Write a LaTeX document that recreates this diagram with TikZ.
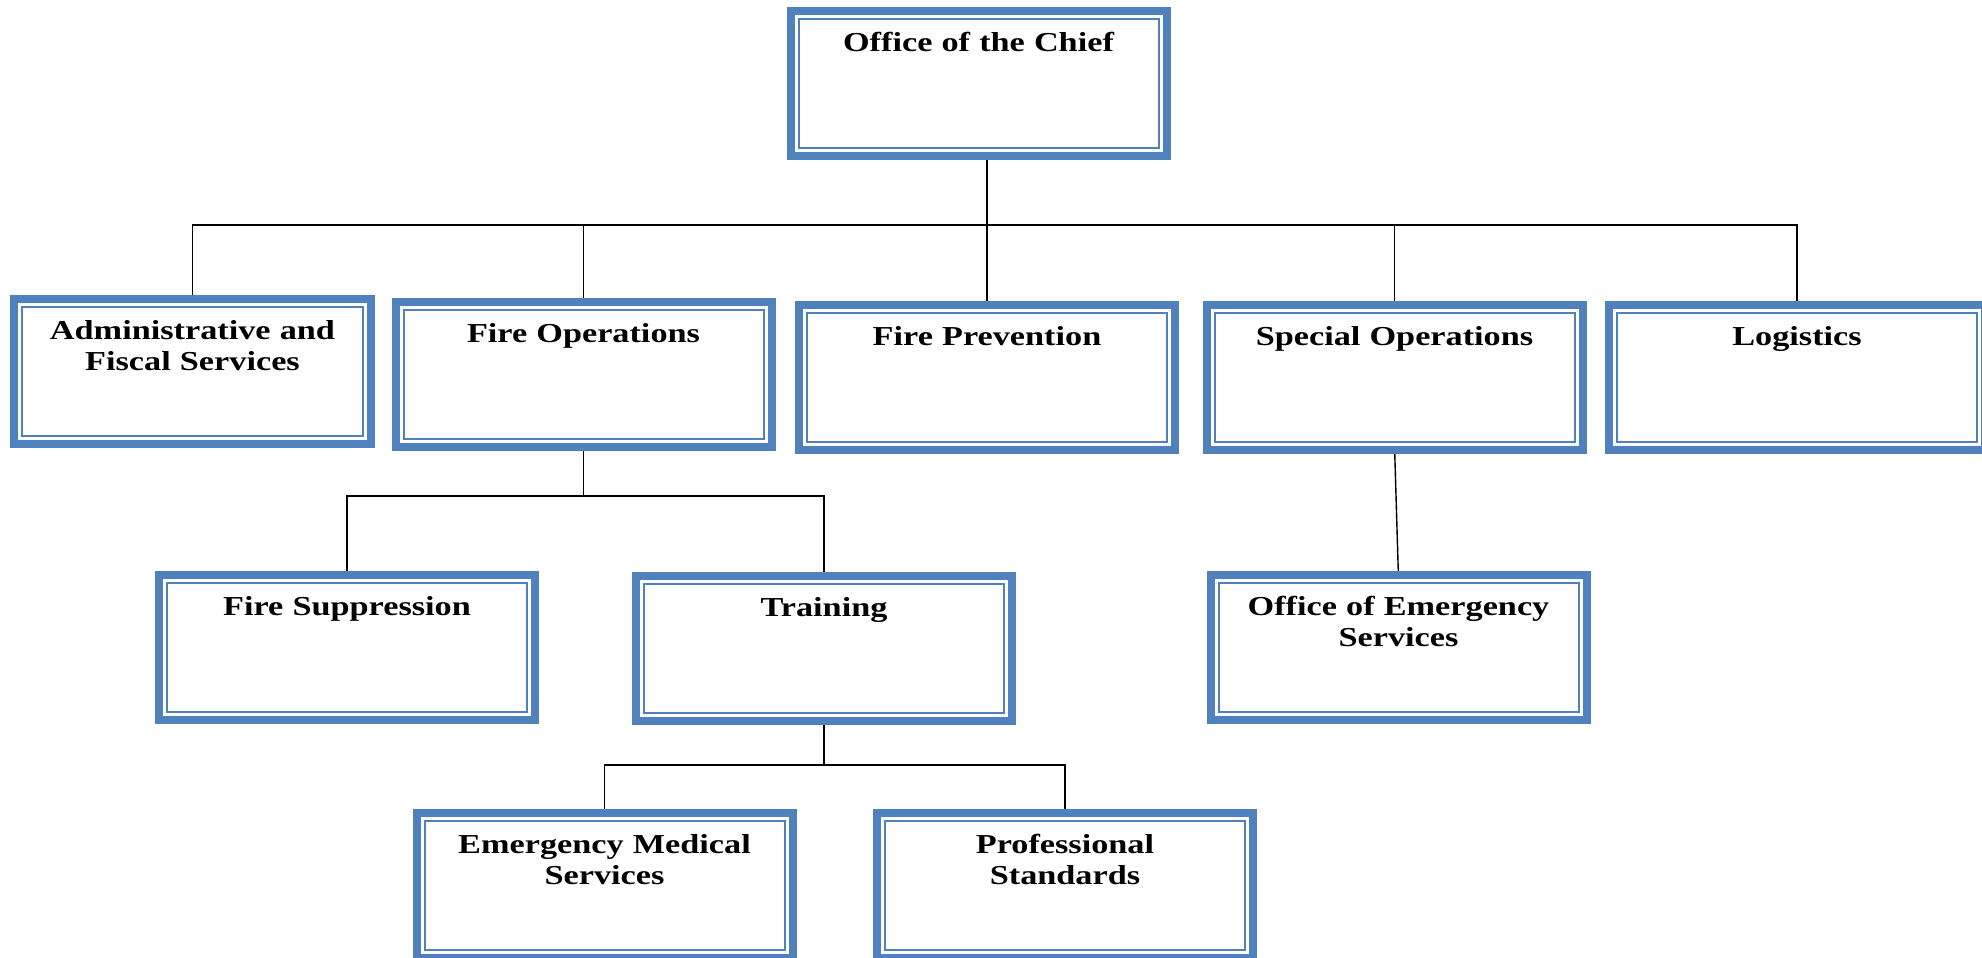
\documentclass[tikz,border=0pt]{standalone}
\usepackage{fontspec}
\setmainfont{Liberation Serif}[FakeStretch=1.25]
\usetikzlibrary{backgrounds}
\definecolor{unitblue}{HTML}{4F81BD}

\begin{document}
\begin{tikzpicture}
    [x=0.5pt,y=-0.5pt,
    unit/.style={rectangle,draw=unitblue,line width=1pt,double=white,double distance=1.5pt,
    preaction={draw=unitblue,line width=9.5pt},fill=white,
    inner sep=0pt,text width=182.5pt,align=center,text height=17.65pt,text depth=49.35pt,
    font=\bfseries\fontsize{13.7pt}{15.5pt}\selectfont},
    wire/.style={draw=black,line width=0.7pt}]
    \useasboundingbox (0,0) rectangle (1982,958);
    \node (chief) [unit] at (978.5,83.5) {Office of the Chief};
    \node (admin) [unit,text width=173pt] at (192.5,371) {Administrative and\\Fiscal Services};
    \node (fire ops) [unit] at (583.5,374) {Fire Operations};
    \node (fire prev) [unit] at (987,377) {Fire Prevention};
    \node (special ops) [unit] at (1394.5,377) {Special Operations};
    \node (logistics) [unit] at (1797,377) {Logistics};
    \node (suppression) [unit] at (347,647) {Fire Suppression};
    \node (training) [unit] at (824,648) {Training};
    \node (oes) [unit] at (1398.5,647) {Office of Emergency\\Services};
    \node (ems) [unit] at (604.5,885.5) {Emergency Medical\\Services};
    \node (standards) [unit] at (1065,885.5) {Professional\\Standards};
    \coordinate (top bus) at (0,225);
    \coordinate (ops bus) at (0,496);
    \coordinate (training bus) at (0,765);
    \begin{scope}[on background layer]
        \draw[wire] (fire prev.north) -- (fire prev.north |- chief.south);
        \draw[wire] (admin.north) -- (admin.north |- top bus) -- (logistics.north |- top bus) -- (logistics.north);
        \foreach \n in {fire ops,special ops}
            \draw[wire] (\n.north) -- (\n.north |- top bus);
        \draw[wire] (fire ops.south) -- (fire ops.south |- ops bus);
        \draw[wire] (suppression.north) -- (suppression.north |- ops bus) -- (training.north |- ops bus) -- (training.north);
        \draw[wire] (training.south) -- (training.south |- training bus);
        \draw[wire] (ems.north) -- (ems.north |- training bus) -- (standards.north |- training bus) -- (standards.north);
        \draw[wire] (special ops.south) -- (oes.north);
    \end{scope}
\end{tikzpicture}
\end{document}
